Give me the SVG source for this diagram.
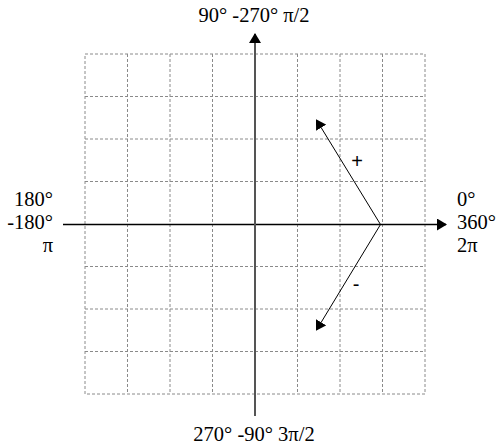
<svg xmlns="http://www.w3.org/2000/svg" width="500" height="448" viewBox="0 0 500 448">
<style>
.grid{stroke:#8a8a8a;stroke-width:1;stroke-dasharray:3,2;fill:none}
.lbl{font-family:"Liberation Serif",serif;font-size:20.5px;fill:#000}
.sign{font-family:"Liberation Sans",sans-serif;font-size:20px;fill:#000}
</style>
<defs>
<marker id="ah" markerWidth="10" markerHeight="12" refX="9" refY="6" orient="auto" markerUnits="userSpaceOnUse">
<path d="M0,0 L10,6 L0,12 Z" fill="#000"/>
</marker>
</defs>
<rect width="500" height="448" fill="#fff"/>
<g id="grid" class="grid">
<rect x="85" y="54" width="340" height="340"/>
<path d="M127.5,54V394M170,54V394M212.5,54V394M297.5,54V394M340,54V394M382.5,54V394"/>
<path d="M85,96.5H425M85,139H425M85,181.5H425M85,266.5H425M85,309H425M85,351.5H425"/>
</g>
<g id="connectors">
<line x1="63" y1="224.5" x2="446" y2="224.5" stroke="#000" stroke-width="1.3" marker-end="url(#ah)"/>
<line x1="255" y1="416" x2="255" y2="34" stroke="#555" stroke-width="2" marker-end="url(#ah)"/>
<line x1="380.5" y1="224.5" x2="316.5" y2="120" stroke="#000" stroke-width="1" marker-end="url(#ah)"/>
<line x1="380.5" y1="224.5" x2="316.5" y2="330" stroke="#000" stroke-width="1" marker-end="url(#ah)"/>
</g>
<g id="labels" class="lbl">
<text x="254" y="22" text-anchor="middle">90° -270° π/2</text>
<text x="254" y="441" text-anchor="middle">270° -90° 3π/2</text>
<text x="53" y="206" text-anchor="end">180°</text>
<text x="53" y="229" text-anchor="end">-180°</text>
<text x="53" y="252" text-anchor="end">π</text>
<text x="457" y="206">0°</text>
<text x="457" y="229">360°</text>
<text x="457" y="252">2π</text>
<text class="sign" x="357" y="168" text-anchor="middle">+</text>
<text class="sign" x="356" y="291" text-anchor="middle">-</text>
</g>
</svg>
